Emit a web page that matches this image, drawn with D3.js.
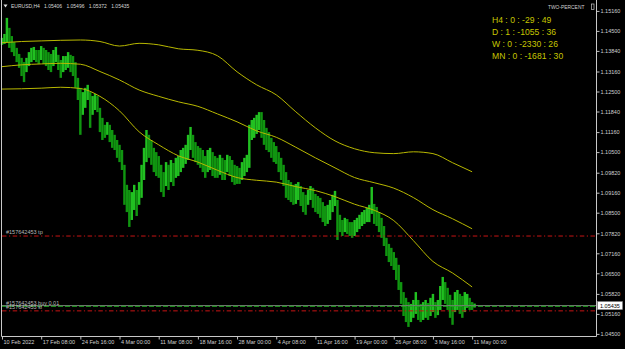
<!DOCTYPE html>
<html>
<head>
<meta charset="utf-8">
<script src="https://cdn.jsdelivr.net/npm/d3@7"></script>
<style>
body { margin: 0; background: #000; }
svg { display: block; font-family: "Liberation Sans", Arial, sans-serif; }
</style>
</head>
<body>
<svg id="chart" width="625" height="349"></svg>
<script>
// EURUSD H4, one entry = two H4 bars (high / low)
var barHigh = [
  1.1427,1.1440,1.1493,1.1460,1.1433,1.1413,1.1394,1.1374,1.1361,1.1347,
  1.1361,1.1380,1.1394,1.1397,1.1387,1.1387,1.1400,1.1394,1.1387,1.1380,
  1.1374,1.1387,1.1397,1.1371,1.1354,1.1367,1.1367,1.1380,1.1371,1.1367,
  1.1347,1.1295,1.1262,1.1248,1.1262,1.1272,1.1248,1.1235,1.1242,1.1235,
  1.1196,1.1163,1.1140,1.1149,1.1140,1.1123,1.1107,1.1090,1.1074,1.1057,
  1.1008,1.0942,1.0925,1.0918,1.0942,1.0925,1.0951,1.1008,1.1064,1.1123,
  1.1107,1.1090,1.1064,1.1050,1.1037,1.1008,1.0984,1.1017,1.1008,1.1024,
  1.1014,1.1031,1.1037,1.1057,1.1064,1.1074,1.1107,1.1133,1.1107,1.1083,
  1.1070,1.1064,1.1057,1.1037,1.1057,1.1064,1.1050,1.1037,1.1031,1.1041,
  1.1031,1.1024,1.1041,1.1037,1.1024,1.1008,1.1004,1.0998,1.1017,1.1031,
  1.1041,1.1140,1.1156,1.1163,1.1173,1.1182,1.1182,1.1156,1.1130,1.1116,
  1.1097,1.1083,1.1070,1.1050,1.1031,1.1008,1.0984,1.0958,1.0951,1.0942,
  1.0945,1.0951,1.0938,1.0918,1.0909,1.0925,1.0938,1.0932,1.0912,1.0905,
  1.0899,1.0885,1.0872,1.0876,1.0892,1.0909,1.0922,1.0892,1.0843,1.0826,
  1.0833,1.0829,1.0819,1.0819,1.0826,1.0833,1.0843,1.0852,1.0859,1.0866,
  1.0876,1.0935,1.0879,1.0869,1.0852,1.0833,1.0806,1.0767,1.0747,1.0734,
  1.0720,1.0701,1.0678,1.0621,1.0588,1.0569,1.0555,1.0549,1.0562,1.0588,
  1.0562,1.0549,1.0555,1.0562,1.0552,1.0569,1.0582,1.0555,1.0562,1.0608,
  1.0638,1.0621,1.0602,1.0579,1.0562,1.0588,1.0595,1.0582,1.0575,1.0588,
  1.0582,1.0569,1.0555,1.0550
];
var barLow = [
  1.1404,1.1407,1.1413,1.1394,1.1380,1.1367,1.1347,1.1328,1.1301,1.1281,
  1.1314,1.1334,1.1347,1.1354,1.1347,1.1341,1.1354,1.1341,1.1334,1.1321,
  1.1314,1.1334,1.1347,1.1321,1.1295,1.1314,1.1321,1.1328,1.1314,1.1301,
  1.1262,1.1222,1.1107,1.1173,1.1196,1.1222,1.1130,1.1173,1.1189,1.1182,
  1.1116,1.1090,1.1097,1.1107,1.1083,1.1064,1.1057,1.1031,1.1017,1.0991,
  1.0876,1.0852,1.0803,1.0826,1.0859,1.0839,1.0876,1.0899,1.0958,1.1017,
  1.1031,1.1008,1.0984,1.0971,1.0965,1.0918,1.0902,1.0938,1.0925,1.0951,
  1.0938,1.0965,1.0971,1.0984,1.0998,1.1011,1.1024,1.1057,1.1031,1.1017,
  1.1008,1.0998,1.0984,1.0965,1.0984,1.0991,1.0971,1.0965,1.0965,1.0975,
  1.0958,1.0958,1.0984,1.0971,1.0951,1.0942,1.0945,1.0945,1.0958,1.0971,
  1.0984,1.0998,1.1090,1.1097,1.1110,1.1123,1.1097,1.1074,1.1057,1.1050,
  1.1031,1.1017,1.1011,1.0984,1.0958,1.0938,1.0899,1.0892,1.0885,1.0876,
  1.0879,1.0892,1.0872,1.0852,1.0843,1.0876,1.0892,1.0866,1.0852,1.0846,
  1.0833,1.0819,1.0806,1.0813,1.0826,1.0852,1.0872,1.0760,1.0786,1.0773,
  1.0786,1.0780,1.0773,1.0767,1.0773,1.0786,1.0796,1.0806,1.0813,1.0819,
  1.0819,1.0846,1.0813,1.0806,1.0786,1.0767,1.0740,1.0707,1.0687,1.0674,
  1.0661,1.0628,1.0595,1.0549,1.0509,1.0489,1.0473,1.0489,1.0503,1.0516,
  1.0496,1.0489,1.0496,1.0503,1.0496,1.0509,1.0522,1.0503,1.0512,1.0529,
  1.0562,1.0549,1.0529,1.0503,1.0480,1.0522,1.0529,1.0516,1.0503,1.0522,
  1.0536,1.0529,1.0529,1.0537
];

// moving average bands, one value every 8 entries
var maStep = 8;
var maUpper = [1.1411,1.1415,1.1417,1.1419,1.1420,1.1415,1.1400,1.1409,1.1404,1.1391,
  1.1386,1.1368,1.1315,1.1272,1.1239,1.1183,1.1130,1.1087,1.1061,1.1048,
  1.1045,1.1051,1.1045,1.1015,1.0985];
var maMiddle = [1.1332,1.1338,1.1341,1.1343,1.1340,1.1316,1.1288,1.1255,1.1234,1.1216,
  1.1201,1.1176,1.1150,1.1120,1.1099,1.1066,1.1031,1.0998,1.0966,1.0949,
  1.0931,1.0900,1.0860,1.0830,1.0797];
var maLower = [1.1258,1.1259,1.1261,1.1264,1.1260,1.1234,1.1186,1.1117,1.1074,1.1038,
  1.1017,1.0990,1.0966,1.0957,1.0951,1.0936,1.0923,1.0903,1.0878,1.0858,
  1.0824,1.0758,1.0689,1.0651,1.0605];

var priceTicks = [1.15160,1.14500,1.13840,1.13160,1.12500,1.11840,1.11160,1.10500,1.09820,
  1.09160,1.08500,1.07820,1.07160,1.06500,1.05820,1.05160,1.04500];
var timeStep = 16;
var timeLabels = ["10 Feb 2022","17 Feb 08:00","24 Feb 16:00","4 Mar 00:00","11 Mar 08:00",
  "18 Mar 16:00","28 Mar 00:00","4 Apr 08:00","11 Apr 16:00","19 Apr 00:00",
  "26 Apr 08:00","3 May 16:00","11 May 00:00"];

var orderNames = ["#157642453 tp","#157642453 buy 0.01","#157642453 sl"];
var orderPrices = [1.0773, 1.0541, 1.0526];
var lastOHLC = [1.05406, 1.05496, 1.05372, 1.05435];
var bid = 1.05435;
var infoLines = ["H4 : 0 : -29 : 49","D : 1 : -1055 : 36","W : 0 : -2330 : 26","MN : 0 : -1681 : 30"];

var svg = d3.select("#chart"),
    left = 2, right = 596.5, bottom = 336.5;

svg.append("rect").attr("width", 625).attr("height", 349).attr("fill", "#000");

var xScale = d3.scaleLinear().domain([0, 243]).range([left, 597]);
var yScale = d3.scaleLinear().domain([1.0448, 1.1552]).range([334.5, 0]);

var plot = svg.append("g");

// price bars
plot.selectAll(".bar")
  .data(barHigh)
  .enter().append("line")
  .attr("class", "bar")
  .attr("x1", function(d, i) { return xScale(i); })
  .attr("x2", function(d, i) { return xScale(i); })
  .attr("y1", function(d) { return yScale(d); })
  .attr("y2", function(d, i) { return yScale(barLow[i]); })
  .attr("stroke", function(d, i) {
    if (i == 0) return "#1fbb1f";
    var mid = (d + barLow[i]) / 2, prev = (barHigh[i - 1] + barLow[i - 1]) / 2;
    return mid >= prev ? "#21c021" : "#109510";
  })
  .attr("stroke-width", 2.45);

// moving average lines
var maLine = d3.line()
  .x(function(d, i) { return xScale(i * maStep); })
  .y(function(d) { return yScale(d); })
  .curve(d3.curveMonotoneX);

[maUpper, maMiddle, maLower].forEach(function(s) {
  plot.append("path")
    .attr("d", maLine(s))
    .attr("fill", "none")
    .attr("stroke", "#b8b800")
    .attr("stroke-width", 1);
});

// bid line and order lines
plot.append("line")
  .attr("x1", left).attr("x2", right)
  .attr("y1", yScale(bid)).attr("y2", yScale(bid))
  .attr("stroke", "#7a7a7a").attr("stroke-width", 1);

orderPrices.forEach(function(p, i) {
  var isBuy = orderNames[i].indexOf("buy") > -1;
  plot.append("line")
    .attr("x1", left).attr("x2", right)
    .attr("y1", yScale(p)).attr("y2", yScale(p))
    .attr("stroke", isBuy ? "#1fa81f" : "#c81414")
    .attr("stroke-width", 1)
    .attr("stroke-dasharray", isBuy ? "5,2" : "4.5,2.5,1.2,2.5");
  plot.append("text")
    .attr("x", 6).attr("y", yScale(p) - 1.6)
    .attr("font-size", 5.5).attr("fill", "#b8b8b8")
    .text(orderNames[i]);
});

// right price axis
var yAxis = svg.append("g")
  .attr("transform", "translate(" + right + ",0)")
  .call(d3.axisRight(yScale).tickValues(priceTicks).tickSize(3).tickSizeOuter(0)
    .tickFormat(d3.format(".5f")));
yAxis.select(".domain").remove();
yAxis.selectAll("line").attr("stroke", "#c0c0c0");
yAxis.selectAll("text").attr("font-size", 5.5).attr("fill", "#d0d0d0")
  .attr("font-family", "Liberation Sans, Arial, sans-serif").attr("x", 4);

// bottom time axis
var xAxis = svg.append("g")
  .attr("transform", "translate(0," + bottom + ")")
  .call(d3.axisBottom(xScale)
    .tickValues(d3.range(0, timeLabels.length * timeStep, timeStep))
    .tickSize(3).tickSizeOuter(0)
    .tickFormat(function(d, i) { return timeLabels[i]; }));
xAxis.select(".domain").remove();
xAxis.selectAll("line").attr("stroke", "#c0c0c0");
xAxis.selectAll("text").attr("font-size", 5.5).attr("fill", "#d0d0d0")
  .attr("font-family", "Liberation Sans, Arial, sans-serif")
  .attr("text-anchor", "start").attr("dx", 1).attr("y", 4);

// frame
svg.append("path")
  .attr("d", "M" + 1.5 + ",0V" + bottom + "H" + right + "V0")
  .attr("fill", "none").attr("stroke", "#c8c8c8").attr("stroke-width", 1);

// current price box
svg.append("rect")
  .attr("x", 597.5).attr("y", yScale(bid) - 4).attr("width", 25).attr("height", 8)
  .attr("fill", "#fff").attr("stroke", "#888").attr("stroke-width", 0.5);
svg.append("text")
  .attr("x", 600).attr("y", yScale(bid) + 2)
  .attr("font-size", 5.5).attr("fill", "#000")
  .text(d3.format(".5f")(bid));

// header
svg.append("path").attr("d", "M3.5,4.5H7.5L5.5,7.5Z").attr("fill", "#e0e0e0");
var head = svg.append("text").attr("y", 8.3).attr("font-size", 5).attr("fill", "#d8d8d8");
head.append("tspan").attr("x", 11).text("EURUSD,H4");
lastOHLC.forEach(function(v, i) {
  head.append("tspan").attr("x", 44 + i * 22.4).text(d3.format(".5f")(v));
});

svg.append("text").attr("x", 548).attr("y", 8.6)
  .attr("font-size", 4.9).attr("fill", "#d0d0d0").text("TWO-PERCENT");
svg.append("rect").attr("x", 591.5).attr("y", 4).attr("width", 2.5).attr("height", 5.5)
  .attr("fill", "none").attr("stroke", "#c8c8c8").attr("stroke-width", 0.7);

// info panel
svg.selectAll(".info")
  .data(infoLines)
  .enter().append("text")
  .attr("class", "info")
  .attr("x", 492)
  .attr("y", function(d, i) { return 22.5 + i * 12.1; })
  .attr("font-size", 8.6)
  .attr("fill", "#c6c600")
  .text(function(d) { return d; });
</script>
</body>
</html>
